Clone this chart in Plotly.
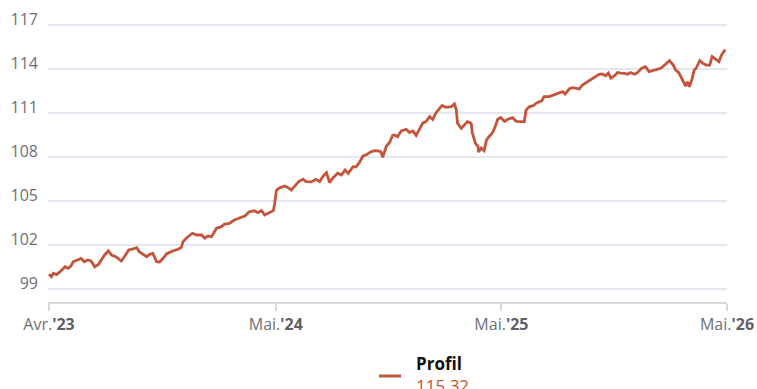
import plotly.graph_objects as go

# Profil index, end-of-period readings (base 100 at start)
dates = [
    "2023-04-30", "2023-05-04", "2023-05-07", "2023-05-12", "2023-05-18", "2023-05-26",
    "2023-05-31", "2023-06-05", "2023-06-08", "2023-06-14", "2023-06-21", "2023-06-26",
    "2023-07-02", "2023-07-07", "2023-07-13", "2023-07-19", "2023-07-24", "2023-07-29",
    "2023-08-04", "2023-08-09", "2023-08-16", "2023-08-21", "2023-08-25", "2023-08-31",
    "2023-09-06", "2023-09-13", "2023-09-19", "2023-09-23", "2023-09-29", "2023-10-05",
    "2023-10-10", "2023-10-15", "2023-10-21", "2023-10-26", "2023-11-01", "2023-11-06",
    "2023-11-17", "2023-11-25", "2023-11-30", "2023-12-03", "2023-12-08", "2023-12-18",
    "2023-12-25", "2024-01-02", "2024-01-07", "2024-01-12", "2024-01-18", "2024-01-26",
    "2024-02-03", "2024-02-08", "2024-02-16", "2024-02-24", "2024-03-04", "2024-03-12",
    "2024-03-19", "2024-03-28", "2024-04-02", "2024-04-08", "2024-04-13", "2024-04-18",
    "2024-04-24", "2024-04-27", "2024-04-29", "2024-05-02", "2024-05-06", "2024-05-10",
    "2024-05-15", "2024-05-21", "2024-05-26", "2024-05-31", "2024-06-07", "2024-06-14",
    "2024-06-19", "2024-06-27", "2024-07-05", "2024-07-11", "2024-07-16", "2024-07-22",
    "2024-07-27", "2024-08-01", "2024-08-09", "2024-08-15", "2024-08-21", "2024-08-26",
    "2024-09-03", "2024-09-08", "2024-09-13", "2024-09-19", "2024-09-24", "2024-10-02",
    "2024-10-08", "2024-10-13", "2024-10-18", "2024-10-21", "2024-10-27", "2024-11-01",
    "2024-11-06", "2024-11-09", "2024-11-14", "2024-11-20", "2024-11-28", "2024-12-03",
    "2024-12-09", "2024-12-14", "2024-12-19", "2024-12-25", "2024-12-30", "2025-01-05",
    "2025-01-10", "2025-01-15", "2025-01-21", "2025-01-25", "2025-01-31", "2025-02-09",
    "2025-02-14", "2025-02-17", "2025-02-19", "2025-02-25", "2025-03-02", "2025-03-07",
    "2025-03-13", "2025-03-15", "2025-03-20", "2025-03-24", "2025-03-25", "2025-03-29",
    "2025-04-03", "2025-04-07", "2025-04-11", "2025-04-17", "2025-04-21", "2025-04-25",
    "2025-04-30", "2025-05-06", "2025-05-11", "2025-05-19", "2025-05-25", "2025-06-02",
    "2025-06-07", "2025-06-10", "2025-06-15", "2025-06-22", "2025-06-26", "2025-07-01",
    "2025-07-05", "2025-07-09", "2025-07-17", "2025-07-25", "2025-08-03", "2025-08-08",
    "2025-08-12", "2025-08-19", "2025-08-24", "2025-08-30", "2025-09-04", "2025-09-09",
    "2025-09-16", "2025-09-23", "2025-09-28", "2025-10-06", "2025-10-11", "2025-10-17",
    "2025-10-21", "2025-10-25", "2025-10-31", "2025-11-05", "2025-11-10", "2025-11-16",
    "2025-11-21", "2025-11-26", "2025-12-02", "2025-12-07", "2025-12-14", "2025-12-20",
    "2025-12-26", "2025-12-31", "2026-01-05", "2026-01-14", "2026-01-22", "2026-01-28",
    "2026-02-03", "2026-02-07", "2026-02-12", "2026-02-17", "2026-02-20", "2026-02-23",
    "2026-02-26", "2026-03-01", "2026-03-05", "2026-03-09", "2026-03-12", "2026-03-18",
    "2026-03-23", "2026-03-28", "2026-04-03", "2026-04-07", "2026-04-13", "2026-04-18",
    "2026-04-22", "2026-04-28",
]

profil = [
    100.00, 99.84, 100.07, 99.98, 100.18, 100.52,
    100.41, 100.59, 100.86, 100.98, 101.09, 100.86,
    100.98, 100.91, 100.52, 100.68, 100.98, 101.32,
    101.59, 101.32, 101.20, 101.05, 100.91, 101.27,
    101.66, 101.73, 101.82, 101.54, 101.39, 101.20,
    101.37, 101.43, 100.86, 100.84, 101.11, 101.39,
    101.61, 101.71, 101.84, 102.23, 102.46, 102.80,
    102.68, 102.68, 102.46, 102.61, 102.57, 103.14,
    103.25, 103.43, 103.48, 103.70, 103.86, 103.98,
    104.27, 104.33, 104.20, 104.35, 104.05, 104.16,
    104.28, 104.34, 104.80, 105.72, 105.87, 105.92,
    106.02, 105.91, 105.75, 105.98, 106.32, 106.48,
    106.32, 106.30, 106.48, 106.32, 106.66, 106.93,
    106.25, 106.55, 106.89, 106.77, 107.11, 106.89,
    107.34, 107.33, 107.61, 108.07, 108.14, 108.36,
    108.43, 108.42, 108.36, 107.98, 108.75, 108.99,
    109.47, 109.50, 109.38, 109.77, 109.89, 109.68,
    109.76, 109.47, 109.84, 110.32, 110.41, 110.76,
    110.56, 111.00, 111.32, 111.51, 111.39, 111.43,
    111.61, 111.21, 110.30, 109.96, 110.18, 110.41,
    110.30, 109.62, 108.93, 108.72, 108.34, 108.61,
    108.43, 109.16, 109.38, 109.68, 110.07, 110.57,
    110.69, 110.42, 110.56, 110.68, 110.43, 110.41,
    110.40, 111.21, 111.42, 111.51, 111.66, 111.77,
    111.82, 112.11, 112.12, 112.23, 112.40, 112.45,
    112.30, 112.65, 112.73, 112.69, 112.64, 112.91,
    113.11, 113.28, 113.42, 113.64, 113.66, 113.54,
    113.73, 113.37, 113.54, 113.76, 113.71, 113.70,
    113.64, 113.76, 113.64, 113.75, 114.05, 114.16,
    113.82, 113.88, 113.93, 114.05, 114.34, 114.58,
    114.27, 113.93, 113.75, 113.30, 113.07, 112.84,
    113.13, 112.79, 113.25, 113.93, 114.05, 114.58,
    114.39, 114.27, 114.26, 114.84, 114.66, 114.50,
    114.95, 115.32,
]

series_name = "Profil"
tick_dates = ["2023-04-30", "2024-05-01", "2025-05-01", "2026-05-01"]
tick_months = ["Avr.", "Mai.", "Mai.", "Mai."]
tick_years = ["'23", "'24", "'25", "'26"]
y_ticks = [99, 102, 105, 108, 111, 114, 117]

LINE = "#c4543a"
GRID = "#e4e8f0"
LABEL = "#6f6f78"
FONT = "Open Sans"

W, H = 757, 389
ML, MR, MT, MB = 48, 30, 10, 87
plot_w = W - ML - MR
plot_h = H - MT - MB

fig = go.Figure()
fig.add_trace(go.Scatter(
    x=dates, y=profil, mode="lines", name=series_name,
    line=dict(color=LINE, width=2.8, shape="linear"),
    showlegend=False, hoverinfo="skip",
))

tick_text = [f"{m}<b><span style='color:#5f5f68'>{y}</span></b>"
             for m, y in zip(tick_months, tick_years)]

fig.update_layout(
    width=W, height=H,
    margin=dict(l=ML, r=MR, t=MT, b=MB, autoexpand=False),
    paper_bgcolor="white", plot_bgcolor="white",
    font=dict(family=FONT, color=LABEL, size=16),
    xaxis=dict(
        type="date", automargin=False,
        range=["2023-04-28 09:30", "2026-05-01"],
        tickmode="array", tickvals=tick_dates, ticktext=tick_text,
        showgrid=False, zeroline=False,
        showline=True, linecolor="#d9d9d9", linewidth=2,
        ticks="outside", ticklen=7, tickwidth=1.5, tickcolor="#d9d9d9",
        tickfont=dict(family=FONT, size=16, color=LABEL),
    ),
    yaxis=dict(
        automargin=False,
        range=[98.114, 118.02],
        tickmode="array", tickvals=y_ticks,
        showgrid=True, gridcolor=GRID, gridwidth=2,
        zeroline=False, showline=False, ticks="",
        tickfont=dict(family=FONT, size=16, color=LABEL),
        ticklabelstandoff=9, ticklabelshift=-6,
    ),
)


def px_x(px):
    return (px - ML) / plot_w


def px_y(py):
    return (H - MB - py) / plot_h


# legend block: swatch, series name and latest value
fig.add_shape(type="line", xref="paper", yref="paper",
              x0=px_x(379), x1=px_x(401), y0=px_y(376), y1=px_y(376),
              line=dict(color=LINE, width=3))
fig.add_annotation(xref="paper", yref="paper", x=px_x(414), y=px_y(363),
                   xanchor="left", yanchor="middle", showarrow=False,
                   text=f"<b>{series_name}</b>",
                   font=dict(family=FONT, size=17, color="#111111"))
fig.add_annotation(xref="paper", yref="paper", x=px_x(414), y=px_y(385),
                   xanchor="left", yanchor="middle", showarrow=False,
                   text=f"{profil[-1]:.2f}",
                   font=dict(family=FONT, size=17, color=LINE))

fig.write_html("out.html")
